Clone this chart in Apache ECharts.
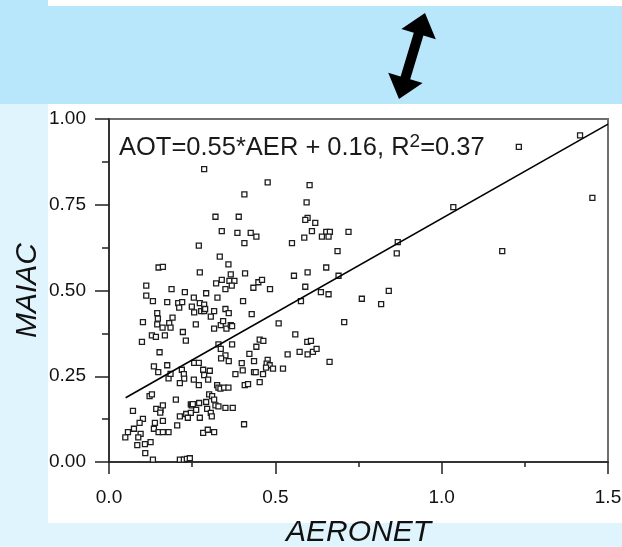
<!DOCTYPE html>
<html>
<head>
<meta charset="utf-8">
<title>MAIAC vs AERONET</title>
<script src="https://cdn.jsdelivr.net/npm/echarts@6/dist/echarts.min.js"></script>
<style>
html,body{margin:0;padding:0;background:#e0f4fd;}
#chart{width:622px;height:547px;}
</style>
</head>
<body>
<div id="chart"></div>
<script>
// AERONET (x) / MAIAC (y) 点数据
var aeronet = [0.286,0.407,0.320,0.390,0.339,0.386,0.426,0.407,0.270,0.333,
    0.149,0.162,0.359,0.273,0.409,0.366,0.339,0.322,0.362,0.377,
    0.369,0.350,0.434,0.112,0.112,0.188,0.228,0.292,0.132,0.175,
    0.208,0.220,0.255,0.326,0.273,0.286,0.403,
    0.477,0.603,0.594,0.597,0.590,0.620,0.610,0.653,0.664,0.720,
    0.587,0.640,0.660,0.443,0.550,0.687,0.868,0.865,0.653,0.556,
    0.597,0.690,0.590,0.449,0.460,0.484,0.637,0.660,0.577,0.760,
    0.841,0.818,
    1.416,1.232,1.453,1.035,1.182,
    0.145,0.211,0.249,0.256,0.277,0.286,0.289,0.316,0.350,0.360,
    0.429,0.102,0.147,0.145,0.161,0.181,0.191,0.185,0.261,0.306,
    0.316,0.336,0.343,0.353,0.366,0.370,0.222,0.129,0.141,0.168,
    0.099,0.231,0.152,0.329,0.336,0.370,0.350,0.337,0.360,0.422,
    0.436,0.135,0.148,0.175,0.219,0.256,0.270,0.283,0.303,0.286,
    0.298,0.399,0.402,0.380,0.436,0.179,0.185,0.225,0.226,0.213,
    0.255,0.270,0.325,0.329,0.335,0.346,0.359,0.408,0.418,0.122,
    0.129,0.201,0.072,0.142,0.155,0.162,0.154,0.246,0.249,0.252,
    0.271,0.292,0.301,0.310,0.316,0.295,0.306,0.309,0.320,0.329,
    0.350,0.372,0.262,0.232,0.246,0.237,0.213,0.273,0.102,0.092,
    0.138,0.162,0.205,0.075,0.135,0.149,0.162,0.179,0.057,0.095,
    0.088,0.049,0.283,0.297,0.316,0.406,0.125,0.108,0.085,0.109,
    0.132,0.213,0.225,0.234,0.243,
    0.510,0.707,0.560,0.453,0.464,0.443,0.537,0.596,0.607,0.573,
    0.597,0.613,0.624,0.663,0.477,0.474,0.483,0.493,0.472,0.523,
    0.441,0.463,0.453];
var maiac = [0.854,0.780,0.715,0.715,0.673,0.668,0.668,0.638,0.631,0.599,
    0.567,0.569,0.576,0.553,0.550,0.547,0.531,0.521,0.528,0.528,
    0.514,0.504,0.508,0.514,0.485,0.504,0.495,0.492,0.469,0.466,
    0.463,0.466,0.479,0.479,0.463,0.459,0.469,
    0.815,0.807,0.757,0.712,0.706,0.697,0.673,0.671,0.671,0.671,
    0.654,0.657,0.657,0.657,0.638,0.615,0.641,0.608,0.567,0.543,
    0.553,0.543,0.511,0.524,0.531,0.504,0.495,0.489,0.469,0.476,
    0.499,0.460,
    0.952,0.919,0.770,0.743,0.615,
    0.434,0.450,0.453,0.436,0.440,0.440,0.446,0.440,0.446,0.434,
    0.431,0.408,0.418,0.401,0.392,0.405,0.421,0.392,0.401,0.424,
    0.389,0.399,0.411,0.389,0.399,0.396,0.379,0.369,0.365,0.369,
    0.350,0.354,0.320,0.343,0.330,0.343,0.311,0.302,0.294,0.315,
    0.294,0.279,0.262,0.282,0.269,0.289,0.289,0.269,0.266,0.253,
    0.240,0.288,0.267,0.256,0.262,0.244,0.257,0.256,0.243,0.230,
    0.240,0.224,0.224,0.217,0.214,0.217,0.217,0.224,0.227,0.192,
    0.197,0.182,0.149,0.155,0.152,0.165,0.144,0.168,0.165,0.169,
    0.172,0.175,0.197,0.192,0.182,0.155,0.143,0.133,0.165,0.162,
    0.158,0.158,0.152,0.140,0.143,0.129,0.133,0.129,0.126,0.114,
    0.114,0.120,0.107,0.097,0.097,0.087,0.087,0.087,0.087,0.082,
    0.072,0.072,0.085,0.094,0.087,0.110,0.058,0.052,0.049,0.026,
    0.007,0.007,0.007,0.009,0.011,
    0.404,0.408,0.372,0.357,0.353,0.336,0.314,0.350,0.353,0.321,
    0.314,0.321,0.330,0.292,0.298,0.287,0.282,0.272,0.275,0.272,
    0.262,0.256,0.233];

// 回归线 AOT=0.55*AER + 0.16
var fitSlope = 0.55;
var fitIntercept = 0.16;
var fitX = [0.05, 1.5];

var xTicks = [0, 0.5, 1.0, 1.5];
var yTicks = [0, 0.25, 0.5, 0.75, 1.0];

var Scatter;

function ScatterModel() {
    Scatter = echarts.init(document.getElementById('chart'), null, {renderer: 'canvas'});
    var pts = [];
    for (var i = 0; i < aeronet.length; i++) {
        pts.push([aeronet[i], maiac[i]]);
    }
    var fitLine = [];
    for (var j = 0; j < fitX.length; j++) {
        fitLine.push([fitX[j], fitSlope * fitX[j] + fitIntercept]);
    }
    var font = 'Liberation Sans, Arial, sans-serif';
    var option = {
        animation: false,
        backgroundColor: '#e0f4fd',
        textStyle: {fontFamily: font},
        title: {
            left: 119,
            top: 132,
            padding: 0,
            text: '{n|AOT=0.55*AER + 0.16, R}{s|2}{n|=0.37}',
            textStyle: {
                fontWeight: 'normal',
                rich: {
                    n: {fontSize: 25.5, fontWeight: 'normal', color: '#1a1a1a', fontFamily: font, lineHeight: 29, verticalAlign: 'bottom'},
                    s: {fontSize: 19, fontWeight: 'normal', color: '#1a1a1a', fontFamily: font, lineHeight: 29, verticalAlign: 'top'}
                }
            }
        },
        graphic: [
            // 背景色块
            {type: 'rect', z: -10, silent: true, shape: {x: 0, y: 0, width: 622, height: 104}, style: {fill: '#b8e6fb'}},
            {type: 'rect', z: -10, silent: true, shape: {x: 48, y: 0, width: 574, height: 6}, style: {fill: '#ffffff'}},
            {type: 'rect', z: -10, silent: true, shape: {x: 48, y: 104, width: 574, height: 419}, style: {fill: '#ffffff'}},
            // 双箭头
            {type: 'polygon', z: 5, silent: true, shape: {points: [
                [425, 13], [435.8, 39.3], [423.4, 35.5], [410.2, 79.3], [422.6, 83.1],
                [399, 99], [388.2, 72.7], [400.6, 76.5], [413.8, 32.7], [401.4, 28.9]
            ]}, style: {fill: '#000'}},
            {type: 'text', silent: true, left: 13, top: 243, rotation: Math.PI / 2,
                style: {text: 'MAIAC', fontSize: 30, fontStyle: 'italic', fontFamily: font, fill: '#111'}}
        ],
        grid: {
            left: 109, top: 119, right: 14, bottom: 85,
            show: true, borderColor: '#6e6e6e', borderWidth: 2,
            outerBoundsMode: 'none'
        },
        xAxis: {
            type: 'value', min: xTicks[0], max: xTicks[xTicks.length - 1], interval: 0.5,
            name: 'AERONET', nameLocation: 'middle', nameGap: 56,
            nameTextStyle: {fontSize: 30, fontStyle: 'italic', color: '#111', fontFamily: font},
            axisLine: {show: true, onZero: false, lineStyle: {color: '#222', width: 1.5}},
            axisTick: {show: true, length: 12, lineStyle: {color: '#222', width: 1.5}},
            minorTick: {show: true, splitNumber: 2, length: 5, lineStyle: {color: '#222', width: 1.5}},
            splitLine: {show: false},
            axisLabel: {fontSize: 19, color: '#111', margin: 26, fontFamily: font,
                formatter: function (v) { return v.toFixed(1); }}
        },
        yAxis: {
            type: 'value', min: yTicks[0], max: yTicks[yTicks.length - 1], interval: 0.25,
            axisLine: {show: true, onZero: false, lineStyle: {color: '#222', width: 1.5}},
            axisTick: {show: true, length: 14, lineStyle: {color: '#222', width: 1.5}},
            minorTick: {show: true, splitNumber: 2, length: 7, lineStyle: {color: '#222', width: 1.5}},
            splitLine: {show: false},
            axisLabel: {fontSize: 19, color: '#111', margin: 23, fontFamily: font,
                formatter: function (v) { return v.toFixed(2); }}
        },
        series: [
            {
                type: 'scatter',
                symbol: 'rect',
                symbolSize: 5,
                data: pts,
                itemStyle: {color: '#fff', borderColor: '#1e1e1e', borderWidth: 1.3, opacity: 1},
                z: 3
            },
            {
                type: 'line',
                data: fitLine,
                showSymbol: false,
                lineStyle: {color: '#000', width: 1.6},
                z: 4
            }
        ]
    };
    Scatter.setOption(option);
}

ScatterModel();
</script>
</body>
</html>
